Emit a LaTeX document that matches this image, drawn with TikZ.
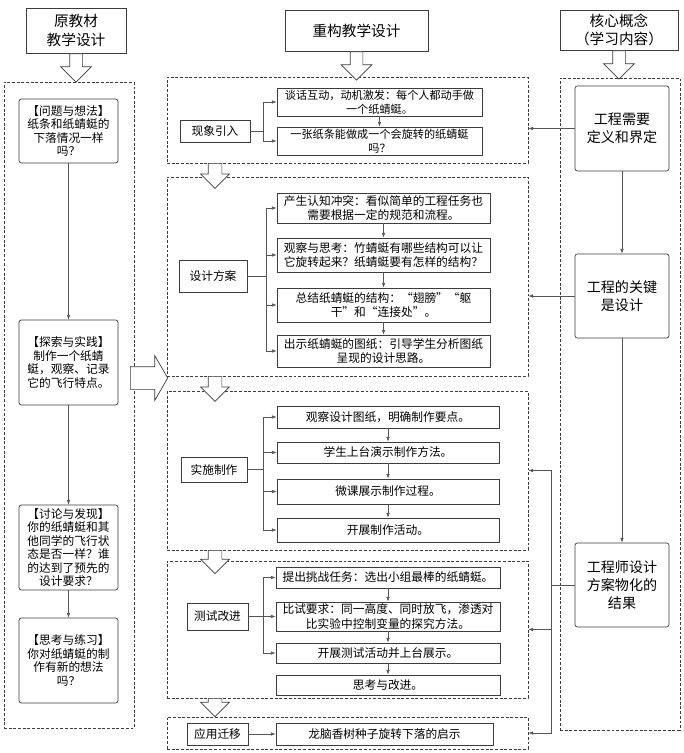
\documentclass[tikz,border=0pt]{standalone}
\usepackage{fontspec}
\newfontfamily\cjk{Noto Sans CJK SC}
\usetikzlibrary{arrows.meta,shapes.arrows,positioning}
\begin{document}
\begin{tikzpicture}[x=0.03cm, y=-0.03cm,
    wh/.style 2 args={minimum width=#1*0.03cm, minimum height=#2*0.03cm},
    box/.style={draw=Lcolor, line width=0.6pt, shape=rectangle, align=center, inner sep=0pt, font=\cjk\fontsize{10}{12.5}\selectfont},
    rbox/.style={box, rounded corners=2pt, font=\cjk\fontsize{10}{11.5}\selectfont},
    cbox/.style={box, rounded corners=2pt, font=\cjk\fontsize{12}{15.5}\selectfont},
    hbox/.style={box, font=\cjk\fontsize{12.5}{15.5}\selectfont},
    frame/.style={draw=Lcolor, dash pattern=on 2.5pt off 1.5pt, line width=0.6pt, shape=rectangle, inner sep=0pt},
    hollow/.style n args={3}{single arrow, draw=Lcolor, fill=white, line width=0.6pt, inner xsep=0pt, inner ysep=#1, single arrow head extend=#2, minimum height=#3, single arrow head indent=0pt},
    link/.style={draw=Ccolor, line width=0.5pt},
    arr/.style={link, -{Latex[length=4pt,width=3pt]}}]
    \definecolor{Lcolor}{RGB}{60, 60, 60}
    \definecolor{Ccolor}{RGB}{85, 85, 85}
    \useasboundingbox (0,0) rectangle (684,753);
    \node[hbox, wh={100}{45}] (H1) at (76, 30.5) {原教材\\教学设计};
    \node[hbox, wh={143}{41}] (H2) at (356.5, 30.5) {重构教学设计};
    \node[hbox, wh={118}{40}] (H3) at (619, 30) {核心概念\\（学习内容）};
    \node[frame, wh={130}{646}] (FL) at (69, 405) {};
    \node[frame, wh={120}{652}] (FR) at (620, 404) {};
    \node[frame, wh={361}{86}] (F1) at (347.5, 120) {};
    \node[frame, wh={361}{199}] (F2) at (347.5, 276.5) {};
    \node[frame, wh={361}{159}] (F3) at (347.5, 470.5) {};
    \node[frame, wh={361}{137}] (F4) at (347.5, 629.5) {};
    \node[frame, wh={361}{32}] (F5) at (347.5, 733) {};
    \node[hollow={0.18cm}{0.27cm}{0.85cm}, rotate=-90, anchor=tail] (A1) at (H1.south) {};
    \node[hollow={0.18cm}{0.27cm}{0.85cm}, rotate=-90, anchor=tail] (A2) at (H2.south) {};
    \node[hollow={0.18cm}{0.27cm}{0.85cm}, rotate=-90, anchor=tail] (A3) at (H3.south) {};
    \node[hollow={0.195cm}{0.225cm}{0.75cm}, rotate=-90, anchor=tail] (A12) at (215, 163) {};
    \node[hollow={0.195cm}{0.225cm}{0.75cm}, rotate=-90, anchor=tail] (A23) at (215, 376) {};
    \node[hollow={0.195cm}{0.225cm}{0.7cm}, rotate=-90, anchor=tail] (A34) at (215, 550) {};
    \node[hollow={0.195cm}{0.225cm}{0.55cm}, rotate=-90, anchor=tail] (A45) at (215, 698) {};
    \node[hollow={0.33cm}{0.33cm}{1.12cm}, single arrow tip angle=120, anchor=tail] (AL) at (130, 378) {};
    \node[rbox, wh={99}{64}] (L1) at (68.5, 131) {【问题与想法】\\纸条和纸蜻蜓的\\下落情况一样\\吗？};
    \node[rbox, wh={99}{85}] (L2) at (68.5, 362.5) {【探索与实践】\\制作一个纸蜻\\蜓，观察、记录\\它的飞行特点。};
    \node[rbox, wh={99}{85}] (L3) at (68.5, 547.5) {【讨论与发现】\\你的纸蜻蜓和其\\他同学的飞行状\\态是否一样？谁\\的达到了预先的\\设计要求？};
    \node[rbox, wh={99}{85}] (L4) at (68.5, 660.5) {【思考与练习】\\你对纸蜻蜓的制\\作有新的想法\\吗？};
    \draw[arr] (L1) -- (L2);
    \draw[arr] (L2) -- (L3);
    \draw[arr] (L3) -- (L4);
    \node[box, wh={70}{22}] (S1) at (215, 131) {现象引入};
    \node[box, wh={205}{28}, font=\cjk\fontsize{9.5}{12}\selectfont] (S1a) at (379.5, 102) {谈话互动，动机激发：每个人都动手做\\一个纸蜻蜓。};
    \node[box, wh={205}{28}, font=\cjk\fontsize{9.5}{12}\selectfont] (S1b) at (379.5, 141) {一张纸条能做成一个会旋转的纸蜻蜓\\吗？};
    \coordinate (t1) at (263, 131);
    \draw[link] (S1) -- (t1);
    \draw[arr] (t1) |- (S1a);
    \draw[arr] (t1) |- (S1b);
    \draw[arr] (S1a) -- (S1b);
    \node[box, wh={68}{32}] (S2) at (213, 276) {设计方案};
    \node[box, wh={213}{30}] (S2a) at (383.5, 208) {产生认知冲突：看似简单的工程任务也\\需要根据一定的规范和流程。};
    \node[box, wh={213}{34}] (S2b) at (383.5, 255) {观察与思考：竹蜻蜓有哪些结构可以让\\它旋转起来？纸蜻蜓要有怎样的结构？};
    \node[box, wh={213}{34}] (S2c) at (383.5, 305) {总结纸蜻蜓的结构：“翅膀”“躯\\干”和“连接处”。};
    \node[box, wh={213}{32}] (S2d) at (383.5, 351) {出示纸蜻蜓的图纸：引导学生分析图纸\\呈现的设计思路。};
    \coordinate (t2) at (266, 276);
    \draw[link] (S2) -- (t2);
    \draw[arr] (t2) |- (S2a);
    \draw[arr] (t2) |- (S2b);
    \draw[arr] (t2) |- (S2c);
    \draw[arr] (t2) |- (S2d);
    \draw[arr] (S2a) -- (S2b);
    \draw[arr] (S2b) -- (S2c);
    \draw[arr] (S2c) -- (S2d);
    \node[box, wh={66}{25}] (S3) at (214, 469.5) {实施制作};
    \node[box, wh={222}{22}] (S3a) at (388, 417) {观察设计图纸，明确制作要点。};
    \node[box, wh={222}{21}] (S3b) at (388, 452.5) {学生上台演示制作方法。};
    \node[box, wh={222}{25}] (S3c) at (388, 491.5) {微课展示制作过程。};
    \node[box, wh={222}{24}] (S3d) at (388, 530) {开展制作活动。};
    \coordinate (t3) at (263, 469.5);
    \draw[link] (S3) -- (t3);
    \draw[arr] (t3) |- (S3a);
    \draw[arr] (t3) |- (S3b);
    \draw[arr] (t3) |- (S3c);
    \draw[arr] (t3) |- (S3d);
    \draw[arr] (S3a) -- (S3b);
    \draw[arr] (S3b) -- (S3c);
    \draw[arr] (S3c) -- (S3d);
    \node[box, wh={61}{27}] (S4) at (217.5, 616.5) {测试改进};
    \node[box, wh={224}{21}] (S4a) at (388, 577.5) {提出挑战任务：选出小组最棒的纸蜻蜓。};
    \node[box, wh={224}{29}] (S4b) at (388, 616.5) {比试要求：同一高度、同时放飞，渗透对\\比实验中控制变量的探究方法。};
    \node[box, wh={224}{20}] (S4c) at (388, 653) {开展测试活动并上台展示。};
    \node[box, wh={224}{20}] (S4d) at (388, 685) {思考与改进。};
    \coordinate (t4) at (263, 616.5);
    \draw[link] (S4) -- (t4);
    \draw[arr] (t4) |- (S4a);
    \draw[arr] (t4) -- (S4b);
    \draw[arr] (t4) |- (S4c);
    \draw[arr] (S4a) -- (S4b);
    \draw[arr] (S4b) -- (S4c);
    \draw[arr] (S4c) -- (S4d);
    \node[box, wh={61}{22}] (S5) at (217.5, 734) {应用迁移};
    \node[box, wh={217}{22}] (S5a) at (384.5, 734) {龙脑香树种子旋转下落的启示};
    \draw[arr] (S5) -- (S5a);
    \node[cbox, wh={94}{85}] (C1) at (622, 128.5) {工程需要\\定义和界定};
    \node[cbox, wh={94}{84}] (C2) at (622, 296) {工程的关键\\是设计};
    \node[cbox, wh={94}{84}] (C3) at (622, 585) {工程师设计\\方案物化的\\结果};
    \draw[arr] (C1) -- (C2);
    \draw[arr] (C2) -- (C3);
    \draw[arr] (C1.west) -- (C1.west -| F1.east);
    \draw[arr] (C2.west) -- (C2.west -| F2.east);
    \coordinate (j3) at (551, 585);
    \draw[link] (C3) -- (j3);
    \draw[arr] (j3) |- (F3.east);
    \draw[arr] (j3) |- (F4.east);
    \draw[arr] (j3) |- (F5.east);
\end{tikzpicture}
\end{document}
